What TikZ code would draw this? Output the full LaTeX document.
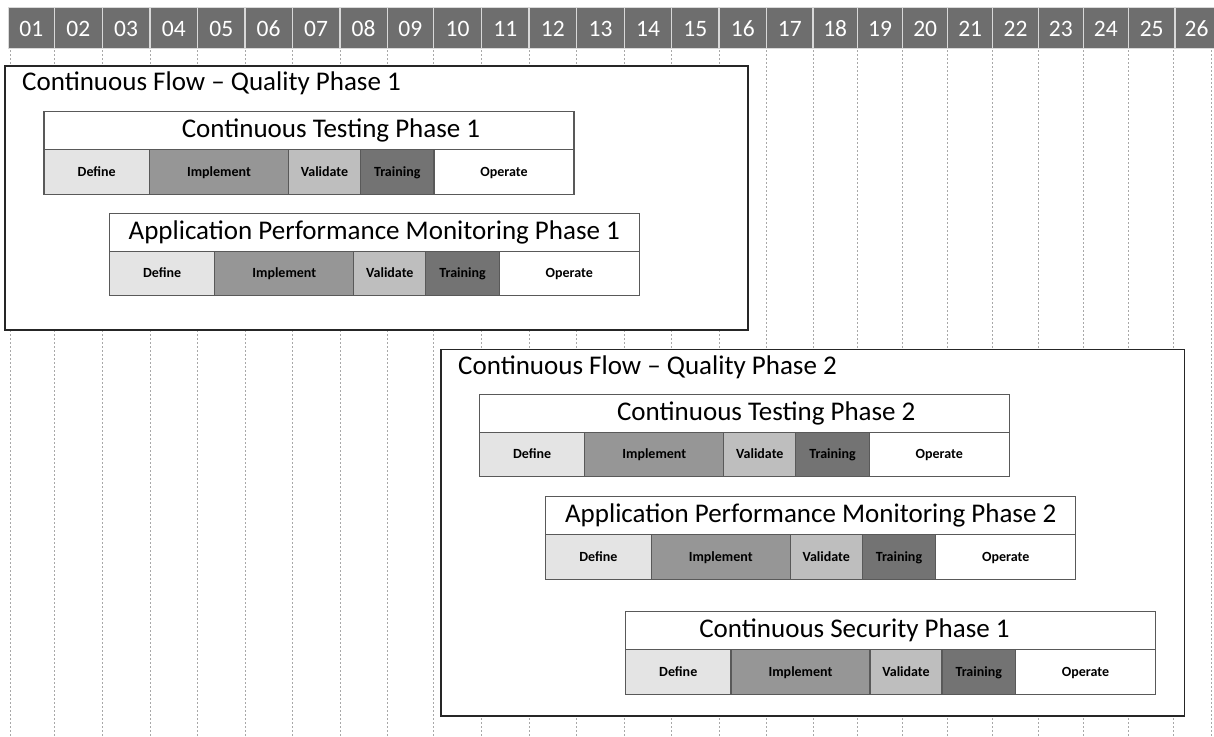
\documentclass[tikz,border=0pt]{standalone}
\usepackage{fontspec}
\setmainfont{Carlito}
\usetikzlibrary{positioning}

\definecolor{hdrgray}{HTML}{6E6E6E}
\definecolor{defcol}{HTML}{E4E4E4}
\definecolor{impcol}{HTML}{969696}
\definecolor{valcol}{HTML}{BEBEBE}
\definecolor{trncol}{HTML}{737373}
\definecolor{barline}{HTML}{595959}
\definecolor{boxline}{HTML}{262626}
\definecolor{gridcol}{HTML}{A8A8A8}

\tikzset{
  hcell/.style={rectangle, fill=hdrgray, draw=white!85!black, line width=1.4pt,
    minimum height=41pt, inner sep=0pt, outer sep=0pt, text=white,
    font=\fontsize{23.5}{25}\selectfont},
  gridline/.style={draw=gridcol, line width=0.7pt, dash pattern=on 2pt off 2pt},
  flowbox/.style={rectangle, draw=boxline, fill=white, line width=1.6pt,
    inner sep=0pt, outer sep=0pt},
  flowtitle/.style={inner sep=0pt, font=\fontsize{27}{30}\selectfont},
  bartitle/.style={rectangle, draw=barline, fill=white, line width=1.3pt,
    minimum width=530pt, minimum height=38pt, inner sep=0pt, outer sep=0pt,
    font=\fontsize{27}{30}\selectfont},
  seg/.style={rectangle, draw=barline, line width=1.3pt,
    minimum height=44.5pt, inner sep=0pt, outer sep=0pt,
    text height=8.6pt, text depth=0pt,
    font=\bfseries\fontsize{14}{16}\selectfont}
}

% one phase bar: name, x, y (top), title shift, title
\newcommand\phasebar[5]{%
  \node[bartitle, anchor=north west] (#1) at (#2,#3) {\hspace*{#4}#5\hspace*{-#4}};
  \node[seg, fill=defcol, minimum width=105.5pt, anchor=north west] (#1-def) at (#1.south west) {Define};
  \node[seg, fill=impcol, minimum width=139pt, anchor=north west] (#1-imp) at (#1-def.north east) {Implement};
  \node[seg, fill=valcol, minimum width=72pt, anchor=north west] (#1-val) at (#1-imp.north east) {Validate};
  \node[seg, fill=trncol, minimum width=73.5pt, anchor=north west] (#1-trn) at (#1-val.north east) {Training};
  \node[seg, fill=white, minimum width=140pt, anchor=north west] (#1-op) at (#1-trn.north east) {Operate};
}

\begin{document}
\begin{tikzpicture}[x=1pt, y=-1pt]
  \useasboundingbox[fill=white] (0,0) rectangle (1214,736);

  % vertical dashed week grid
  \foreach \gx in {10, 54.3, 102.3, 150, 197.7, 245, 292.3, 340, 387.3, 433.3,
                   481.7, 529, 576.7, 624.3, 671.7, 719, 766.7, 813, 857.3,
                   902.7, 947.7, 992.7, 1038.3, 1083.3, 1128.3, 1173, 1211}
    \draw[gridline] (\gx,50) -- (\gx,736);

  % week header
  \begin{scope}
    \clip (0,0) rectangle (1214,736);
    \foreach \n/\a/\b in {01/8.3/54.3, 02/54.3/102.3, 03/102.3/150, 04/150/197.7,
        05/197.7/245, 06/245/292.3, 07/292.3/340, 08/340/387.3, 09/387.3/433.3,
        10/433.3/481.7, 11/481.7/529, 12/529/576.7, 13/576.7/624.3,
        14/624.3/671.7, 15/671.7/719, 16/719/766.7, 17/766.7/813,
        18/813/857.3, 19/857.3/902.7, 20/902.7/947.7, 21/947.7/992.7,
        22/992.7/1038.3, 23/1038.3/1083.3, 24/1083.3/1128.3,
        25/1128.3/1175, 26/1175/1218} {
      \pgfmathsetmacro\cw{\b-\a}
      \node[hcell, minimum width=\cw pt, anchor=north west, text depth=0pt]
        (h\n) at (\a,7.3) {\raisebox{-1.5pt}{\n}};
    }
  \end{scope}

  % phase 1 container
  \node[flowbox, minimum width=743pt, minimum height=264pt, anchor=north west]
    (flow1) at (5,65.7) {};
  \node[flowtitle, anchor=base west] (flow1-title) at (22,90)
    {Continuous Flow – Quality Phase 1};
  \phasebar{ct1}{44}{111.7}{22pt}{Continuous Testing Phase 1}
  \phasebar{apm1}{109.3}{213.3}{0pt}{Application Performance Monitoring Phase 1}

  % phase 2 container
  \node[flowbox, minimum width=743.6pt, minimum height=366.2pt, anchor=north west]
    (flow2) at (440.7,349.5) {};
  \node[flowtitle, anchor=base west] (flow2-title) at (458,374)
    {Continuous Flow – Quality Phase 2};
  \phasebar{ct2}{479.3}{394.3}{22pt}{Continuous Testing Phase 2}
  \phasebar{apm2}{545.7}{496.7}{0pt}{Application Performance Monitoring Phase 2}
  \phasebar{cs1}{625.5}{611.7}{-36pt}{Continuous Security Phase 1}
\end{tikzpicture}
\end{document}
